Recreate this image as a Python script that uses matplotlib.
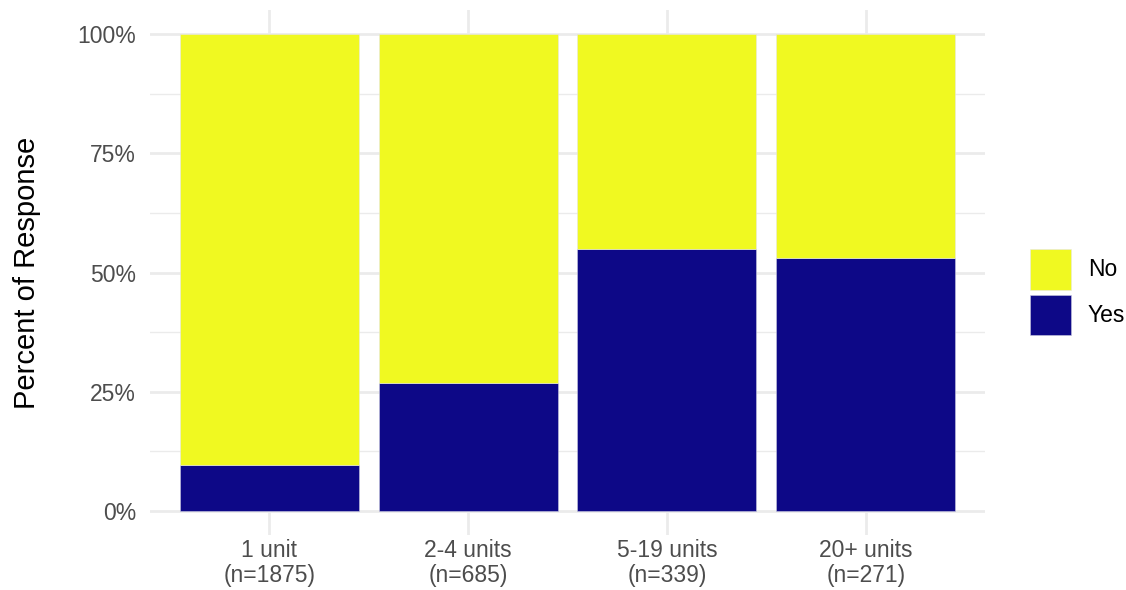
import matplotlib
matplotlib.use("Agg")
import matplotlib.pyplot as plt
from matplotlib.patches import Patch
from matplotlib.ticker import MultipleLocator, FuncFormatter
import numpy as np

plt.rcParams['font.family'] = ['Liberation Sans', 'DejaVu Sans']

categories = ["1 unit\n(n=1875)", "2-4 units\n(n=685)", "5-19 units\n(n=339)", "20+ units\n(n=271)"]
yes_pct = [9.65, 26.9, 54.9, 53.1]
no_pct = [100 - v for v in yes_pct]

YES_COLOR = "#0D0887"
NO_COLOR = "#F0F921"
GRID = "#EBEBEB"
TICK_TEXT = "#4D4D4D"

fig = plt.figure(figsize=(11.26, 5.90), dpi=100)
ax = fig.add_axes([150 / 1126, 55 / 590, 835 / 1126, 525 / 590])

x = np.arange(len(categories))
ax.bar(x, yes_pct, width=0.9, color=YES_COLOR, edgecolor="#C8C8E0", linewidth=0.4, zorder=3)
ax.bar(x, no_pct, bottom=yes_pct, width=0.9, color=NO_COLOR, edgecolor="#E6E6E6", linewidth=0.4, zorder=3)

ax.set_xlim(-0.6, len(categories) - 0.4)
ax.set_ylim(-5, 105)
ax.set_xticks(x)
ax.set_xticklabels(categories, fontsize=16.5, color=TICK_TEXT, linespacing=1.1)
ax.yaxis.set_major_locator(MultipleLocator(25))
ax.yaxis.set_minor_locator(MultipleLocator(12.5))
ax.yaxis.set_major_formatter(FuncFormatter(lambda v, p: f"{v:.0f}%"))
ax.tick_params(axis="y", labelsize=16.5, labelcolor=TICK_TEXT, length=0, pad=10)
ax.tick_params(axis="y", which="minor", length=0)
ax.tick_params(axis="x", length=0, pad=3)

ax.grid(which="major", color=GRID, linewidth=2.0, zorder=0)
ax.grid(which="minor", axis="y", color=GRID, linewidth=1.0, zorder=0)
ax.set_axisbelow(True)
for s in ax.spines.values():
    s.set_visible(False)

ax.set_ylabel("Percent of Response", fontsize=21, color="black", labelpad=26)

handles = [Patch(facecolor=NO_COLOR, edgecolor="#E6E6E6", linewidth=0.4, label="No"),
           Patch(facecolor=YES_COLOR, edgecolor="#C8C8E0", linewidth=0.4, label="Yes")]
fig.legend(handles=handles, loc="upper left", bbox_to_anchor=(1030 / 1126, 1 - 249 / 590),
           frameon=False, fontsize=16.5, handlelength=1.8, handleheight=2.35,
           handletextpad=0.72, labelspacing=0.22, borderpad=0, borderaxespad=0)

fig.savefig("out.png", dpi=100)
